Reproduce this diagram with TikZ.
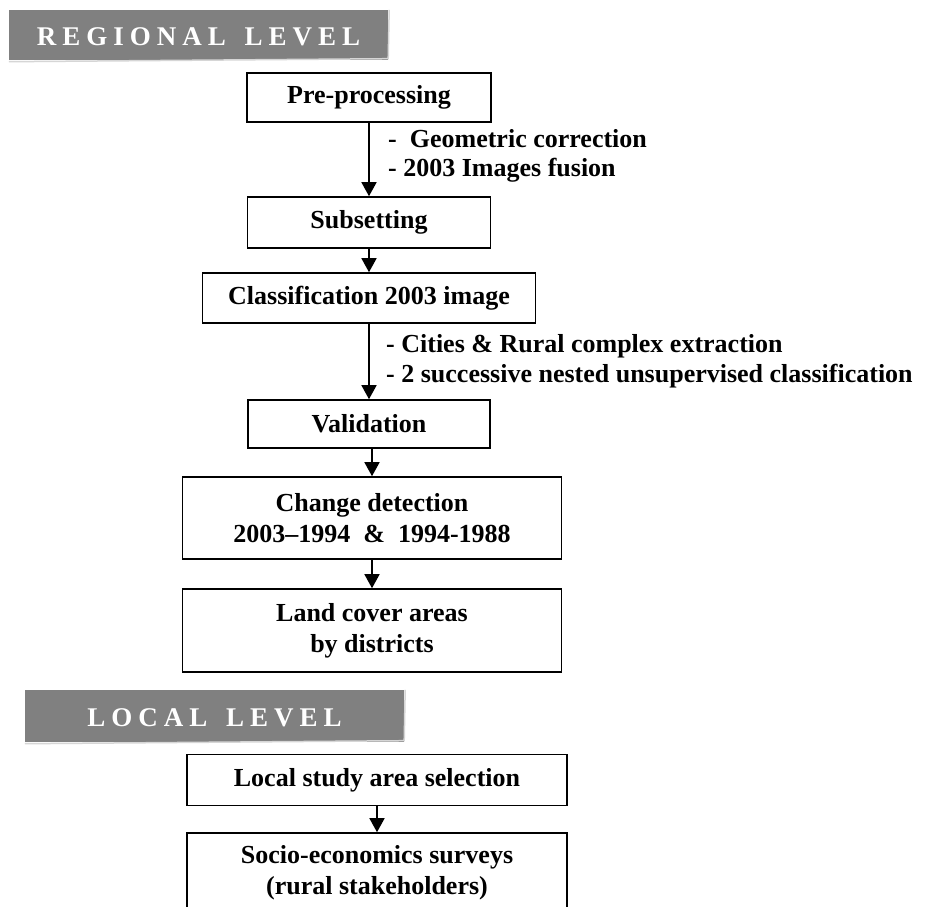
\documentclass[tikz,border=0pt]{standalone}
\usepackage{fontspec}
\setmainfont{Liberation Serif}
\usetikzlibrary{arrows.meta}
\definecolor{bannergray}{HTML}{808080}
\definecolor{shadowgray}{HTML}{D6D6D6}
\newcommand\boxfont{\fontsize{26}{31}\selectfont\bfseries}
\newcommand\banfont{\fontsize{27}{32}\selectfont\bfseries\color{white}}
\newcommand\lgap{\kern6pt}
\begin{document}
\begin{tikzpicture}[x=1pt,y=-1pt,
  stepbox/.style={draw, line width=1.6pt, inner sep=0pt, font=\boxfont, align=center},
  bannerbox/.style={fill=bannergray, inner sep=0pt},
  bannertext/.style={inner sep=0pt, font=\banfont},
  arr/.style={line width=1.6pt, -{Triangle[width=15pt,length=14pt]}},
  lbl/.style={anchor=base west, inner sep=0pt, font=\boxfont}]
\useasboundingbox (0,0) rectangle (930,907);
\fill[white] (0,0) rectangle (930,907);

% Regional banner
\node[bannerbox, minimum width=379pt, minimum height=50pt] (rban) at (198.5,35) {};
\draw[shadowgray, line width=1.5pt] (rban.south west) ++(0,1.5) -- ([yshift=1.5pt]rban.south east) -- ([xshift=1pt]rban.north east);
\node[bannertext] (rtxt) at (198.5,37) {R\lgap E\lgap G\lgap I\lgap O\lgap N\lgap A\lgap L\lgap\ \lgap L\lgap E\lgap V\lgap E\lgap L};

% Regional boxes
\node[stepbox, minimum width=244pt, minimum height=49pt] (pre) at (369,97.5) {Pre-processing};
\node[stepbox, minimum width=243pt, minimum height=51pt] (sub) at (369,222.5) {Subsetting};
\node[stepbox, minimum width=333pt, minimum height=50pt] (cls) at (369,298) {Classification 2003 image};
\node[stepbox, minimum width=242pt, minimum height=48pt] (val) at (369,424) {Validation};
\node[stepbox, minimum width=379pt, minimum height=82pt] (chg) at (372,518) {Change detection\\2003–1994\ \ \&\ \ 1994-1988};
\node[stepbox, minimum width=379pt, minimum height=83pt] (land) at (372,630.5) {Land cover areas\\by districts};

% Labels
\node[lbl] (lgeo) at (388,147.5) {-\ \ Geometric correction};
\node[lbl] (lfus) at (388,176) {- 2003 Images fusion};
\node[lbl] (lcit) at (386,352.5) {- Cities \& Rural complex extraction};
\node[lbl] (lsuc) at (386,382.5) {- 2 successive nested unsupervised classification};

% Arrows
\draw[arr] (pre) -- (sub);
\draw[arr] (sub) -- (cls);
\draw[arr] (cls) -- (val);
\draw[arr] (chg.north |- val.south) -- (chg.north);
\draw[arr] (chg) -- (land);

% Local banner
\node[bannerbox, minimum width=379pt, minimum height=52pt] (lban) at (214.5,716) {};
\draw[shadowgray, line width=1.5pt] (lban.south west) ++(0,1.5) -- ([yshift=1.5pt]lban.south east) -- ([xshift=1pt]lban.north east);
\node[bannertext] (ltxt) at (214.5,718) {L\lgap O\lgap C\lgap A\lgap L\lgap\ \lgap L\lgap E\lgap V\lgap E\lgap L};

% Local boxes
\node[stepbox, minimum width=380pt, minimum height=51pt] (loc) at (377,780) {Local study area selection};
\node[stepbox, minimum width=380pt, minimum height=80pt] (soc) at (377,873) {Socio-economics surveys\\(rural stakeholders)};
\draw[arr] (loc) -- (soc);
\end{tikzpicture}
\end{document}
